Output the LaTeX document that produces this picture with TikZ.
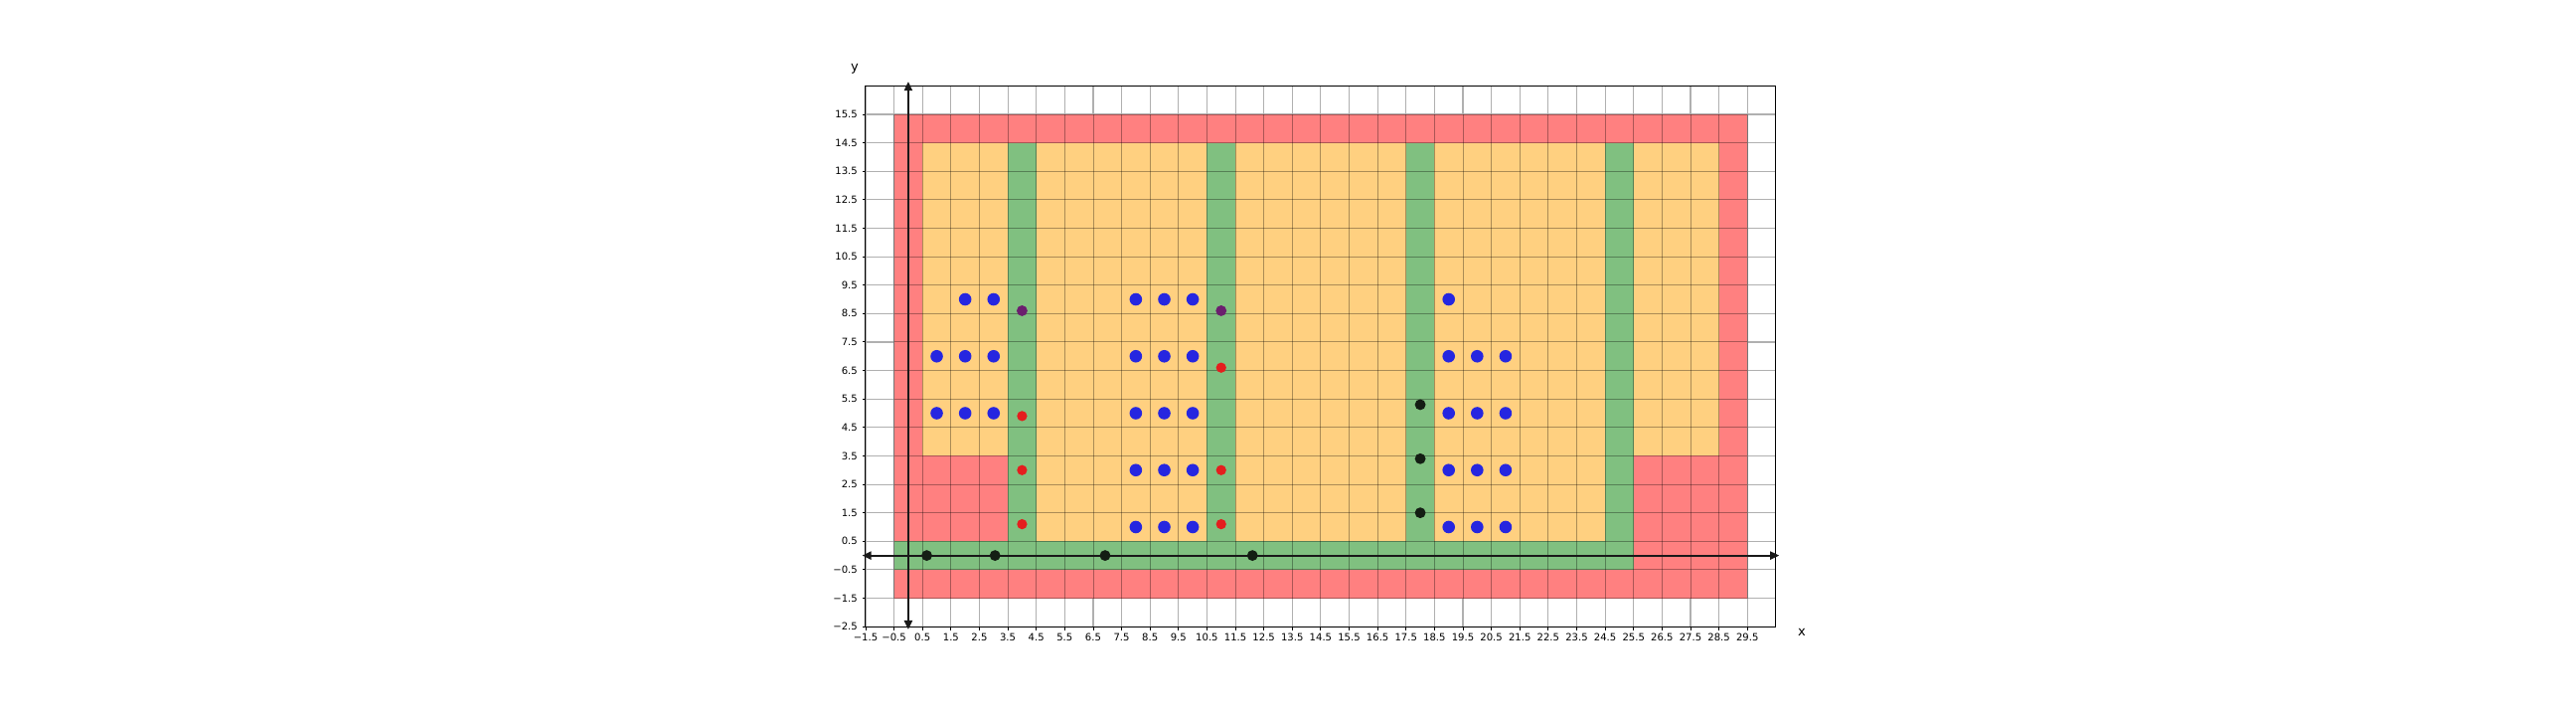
\documentclass[tikz,border=0pt]{standalone}
\usepackage{fontspec}
\setmainfont{DejaVu Sans}
\usepackage{tikz}
\usetikzlibrary{arrows.meta}
\definecolor{wallred}{HTML}{FF8080}
\definecolor{roomorange}{HTML}{FFD080}
\definecolor{pathgreen}{HTML}{80C080}
\definecolor{gridgray}{HTML}{B0B0B0}
\definecolor{dotblue}{HTML}{2626E0}
\definecolor{dotred}{HTML}{E41E1E}
\definecolor{dotpurple}{HTML}{6B1E6E}
\definecolor{dotblack}{HTML}{141E14}

\begin{document}
\begin{tikzpicture}[
		ticklabel/.style={font=\fontsize{10}{12}\selectfont, inner sep=0pt},
		axislabel/.style={font=\fontsize{13}{15}\selectfont, inner sep=0pt},
		lightgrid/.style={gridgray, line width=1.1pt},
		celledge/.style={black, opacity=0.33, line width=0.9pt},
		axisarrow/.style={black!90, line width=2pt, {Triangle[length=9pt,width=8pt]}-{Triangle[length=9pt,width=8pt]}},
	]
		\useasboundingbox (-31.933,-5.639) rectangle (58.633,19.518);
		\coordinate (O) at (0,0);

		% grid of the axes
		\foreach \x in {-1,...,30}
			\draw[lightgrid] (\x-0.5,-2.5) -- (\x-0.5,16.5);
		\foreach \y in {-2,...,16}
			\draw[lightgrid] (-1.5,\y-0.5) -- (30.5,\y-0.5);

		% walls, rooms and paths
		\fill[wallred] (-0.5,-1.5) rectangle (29.5,15.5);
		\fill[roomorange] (0.5,0.5) rectangle (28.5,14.5);
		\fill[wallred] (0.5,0.5) rectangle (3.5,3.5);
		\fill[wallred] (25.5,-0.5) rectangle (28.5,3.5);
		\fill[pathgreen] (-0.5,-0.5) rectangle (25.5,0.5);
		\foreach \c in {4,11,18,25}
			\fill[pathgreen] (\c-0.5,0.5) rectangle (\c+0.5,14.5);

		% cell edges
		\foreach \x in {0,...,30}
			\draw[celledge] (\x-0.5,-1.5) -- (\x-0.5,15.5);
		\foreach \y in {-1,...,16}
			\draw[celledge] (-0.5,\y-0.5) -- (29.5,\y-0.5);

		\draw[black, line width=1pt] (-1.5,-2.5) rectangle (30.5,16.5);

		% axes
		\coordinate (xl) at (-1.62,0);
		\coordinate (xr) at (30.62,0);
		\coordinate (yd) at (0,-2.6);
		\coordinate (yu) at (0,16.65);
		\draw[axisarrow] (xl) -- (xr);
		\draw[axisarrow] (yd) -- (yu);

		% points
		\foreach \p in {(2,9),(3,9),(1,7),(2,7),(3,7),(1,5),(2,5),(3,5),
			(8,9),(9,9),(10,9),(8,7),(9,7),(10,7),(8,5),(9,5),(10,5),(8,3),(9,3),(10,3),(8,1),(9,1),(10,1),
			(19,9),(19,7),(20,7),(21,7),(19,5),(20,5),(21,5),(19,3),(20,3),(21,3),(19,1),(20,1),(21,1)}
			\fill[dotblue] \p circle (0.22);
		\foreach \p in {(4,8.6),(11,8.6)}
			\fill[dotpurple] \p circle (0.19);
		\foreach \p in {(4,4.9),(4,3),(4,1.1),(11,6.6),(11,3),(11,1.1)}
			\fill[dotred] \p circle (0.18);
		\foreach \p in {(0.65,0),(3.05,0),(6.92,0),(12.1,0),(18,5.3),(18,3.4),(18,1.5)}
			\fill[dotblack] \p circle (0.19);

		% ticks and labels
		\foreach \x/\t [count=\k] in {-1.5/−1.5,-0.5/−0.5,0.5/0.5,1.5/1.5,2.5/2.5,3.5/3.5,4.5/4.5,5.5/5.5,6.5/6.5,7.5/7.5,8.5/8.5,9.5/9.5,10.5/10.5,11.5/11.5,12.5/12.5,13.5/13.5,14.5/14.5,15.5/15.5,16.5/16.5,17.5/17.5,18.5/18.5,19.5/19.5,20.5/20.5,21.5/21.5,22.5/22.5,23.5/23.5,24.5/24.5,25.5/25.5,26.5/26.5,27.5/27.5,28.5/28.5,29.5/29.5}{
			\draw[black, line width=0.9pt] (\x,-2.5) -- (\x,-2.62);
			\node[ticklabel] (tx\k) at (\x,-2.87) {\t};
		}
		\foreach \y/\t [count=\k] in {-2.5/−2.5,-1.5/−1.5,-0.5/−0.5,0.5/0.5,1.5/1.5,2.5/2.5,3.5/3.5,4.5/4.5,5.5/5.5,6.5/6.5,7.5/7.5,8.5/8.5,9.5/9.5,10.5/10.5,11.5/11.5,12.5/12.5,13.5/13.5,14.5/14.5,15.5/15.5}{
			\draw[black, line width=0.9pt] (-1.5,\y) -- (-1.62,\y);
			\node[ticklabel, anchor=east] (ty\k) at (-1.78,\y) {\t};
		}
		\node[axislabel] (xlab) at (31.41,-2.7) {x};
		\node[axislabel] (ylab) at (-1.88,17.1) {y};
	\end{tikzpicture}
\end{document}
